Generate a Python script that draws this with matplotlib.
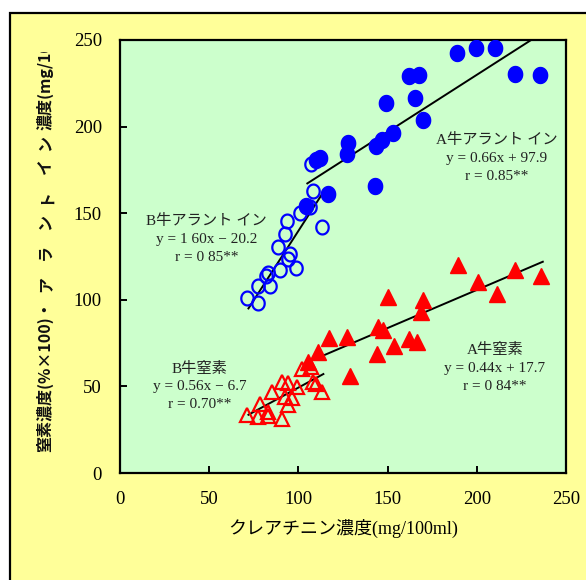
import numpy as np
import matplotlib
matplotlib.use("Agg")
import matplotlib.pyplot as plt
from matplotlib.path import Path
from matplotlib.patches import Rectangle
from matplotlib.transforms import Bbox, TransformedBbox

# A牛 allantoin (filled circles)
a_alla_x = [189.1, 199.6, 210.4, 162.2, 167.8, 221.4, 235.4, 149.1, 165.5, 170.0,
            152.9, 146.7, 143.5, 128.0, 127.4, 110.0, 112.1, 142.9, 116.8, 104.1]
a_alla_y = [242.3, 245.2, 245.2, 229.2, 229.6, 230.2, 229.6, 213.4, 216.3, 203.8,
            196.1, 192.3, 188.8, 190.7, 184.2, 180.5, 181.7, 165.7, 161.3, 154.2]

# B牛 allantoin (open circles)
b_alla_x = [107.1, 108.4, 106.5, 100.9, 113.4, 93.8, 92.5, 88.7, 95.3, 94.0,
            89.7, 98.5, 83.1, 81.7, 77.5, 84.1, 71.0, 77.5]
b_alla_y = [178.4, 163.0, 153.4, 149.9, 141.9, 145.7, 137.8, 130.3, 126.3, 123.4,
            117.2, 118.5, 115.6, 113.7, 108.0, 108.1, 101.2, 98.3]

# A牛 nitrogen (filled triangles)
a_n_x = [189.3, 200.5, 221.4, 236.0, 211.2, 150.4, 170.0, 168.5, 144.4, 147.6,
         127.4, 117.3, 153.6, 162.2, 166.6, 143.9, 111.2, 129.0, 105.6]
a_n_y = [120.1, 110.5, 117.2, 113.7, 103.3, 101.4, 99.9, 93.1, 84.5, 82.6,
         78.3, 77.8, 73.3, 77.2, 75.8, 68.7, 70.0, 56.0, 64.3]

# B牛 nitrogen (open triangles)
b_n_x = [101.8, 107.1, 90.6, 94.3, 99.0, 85.0, 108.4, 109.7, 113.4, 92.5,
         96.2, 94.3, 78.5, 71.0, 77.5, 83.1, 83.1, 90.6]
b_n_y = [59.9, 61.0, 52.7, 51.8, 49.8, 46.9, 52.7, 51.4, 46.9, 44.1,
         43.1, 39.3, 39.8, 33.5, 32.5, 32.9, 35.4, 31.0]

# regression lines: slope, intercept, x range
fits = [
    (0.66, 97.9, 105, 230),   # A allantoin
    (1.60, -20.2, 72, 113),   # B allantoin
    (0.44, 17.7, 105, 237),   # A nitrogen
    (0.56, -6.7, 72, 114),    # B nitrogen
]

labels = [
    (211, ["A牛アラント イン", "y = 0.66x + 97.9", "r = 0.85**"], [192.3, 181.7, 171.1]),
    (48.6, ["B牛アラント イン", "y = 1 60x − 20.2", "r = 0 85**"], [145.7, 134.9, 124.5]),
    (44.5, ["B牛窒素", "y = 0.56x − 6.7", "r = 0.70**"], [60.0, 49.8, 39.3]),
    (210.2, ["A牛窒素", "y = 0.44x + 17.7", "r = 0 84**"], [71.0, 60.4, 49.8]),
]

ticks = [0, 50, 100, 150, 200, 250]

serif = ["Liberation Serif", "Noto Sans CJK JP"]
gothic = ["Noto Sans CJK JP", "DejaVu Sans"]
blue = "#0000FF"
red = "#FF0000"

# slightly tall ellipse marker
t = np.linspace(0, 2 * np.pi, 60)
ellipse = Path(np.column_stack([np.cos(t) / 1.12, np.sin(t)]), closed=True)

W, H = 586, 580
fig = plt.figure(figsize=(W / 100, H / 100), dpi=100)
fig.patch.set_facecolor("white")

# yellow panel behind the chart
fig.patches.append(Rectangle((10 / W, -0.1), 1.1, (H - 13) / H + 0.1,
                             transform=fig.transFigure, facecolor="#FFFF99",
                             edgecolor="black", linewidth=1.6, zorder=-1))

ax = fig.add_axes([120 / W, (H - 473) / H, 446 / W, 433 / H])
ax.set_facecolor("#CCFFCC")

for slope, icpt, x0, x1 in fits:
    xs = np.array([x0, x1])
    ax.plot(xs, slope * xs + icpt, color="black", lw=1.4, zorder=2)

ax.plot(b_n_x, b_n_y, ls="none", marker="^", ms=10.5, mfc="none", mec=red, mew=1.6, zorder=3)
ax.plot(a_n_x, a_n_y, ls="none", marker="^", ms=11.5, mfc=red, mec=red, zorder=3)
ax.plot(b_alla_x, b_alla_y, ls="none", marker=ellipse, ms=10, mfc="none", mec=blue, mew=1.6, zorder=3)
ax.plot(a_alla_x, a_alla_y, ls="none", marker=ellipse, ms=11.5, mfc=blue, mec=blue, zorder=3)

for x, lines, ys in labels:
    for txt, y in zip(lines, ys):
        ax.text(x, y, txt, ha="center", va="center", fontsize=11, family=serif, color="#222222")

ax.set_xlim(0, 250)
ax.set_ylim(0, 250)
ax.set_xticks(ticks)
ax.set_yticks(ticks)
ax.tick_params(direction="in", length=5, width=1.4, labelsize=13.5, pad=13)
for lab in ax.get_xticklabels() + ax.get_yticklabels():
    lab.set_family(serif)
for sp in ax.spines.values():
    sp.set_linewidth(1.6)

ax.set_xlabel("クレアチニン濃度(mg/100ml)", family=serif, fontsize=13, labelpad=8)

# vertical y label, written in pieces so the katakana get wider spacing;
# the top runs off the panel and is clipped
clip = TransformedBbox(Bbox([[0, 0], [1, (H - 52) / H]]), fig.transFigure)
ylab_parts = [
    ("窒素濃度(%×100)・", 452, "bottom"),
    ("ア", 284, "center"), ("ラ", 252, "center"), ("ン", 222, "center"),
    ("ト", 196, "center"), ("イ", 166, "center"), ("ン", 143, "center"),
    ("濃度(mg/100ml)", 130, "bottom"),
]
for txt, ypix, va in ylab_parts:
    tx = fig.text(45 / W, (H - ypix) / H, txt, rotation=90, ha="center", va=va,
                  fontsize=11.5, family=gothic, weight="bold", color="#111111")
    tx.set_clip_on(True)
    tx.set_clip_box(clip)

fig.savefig("out.png", dpi=100)
